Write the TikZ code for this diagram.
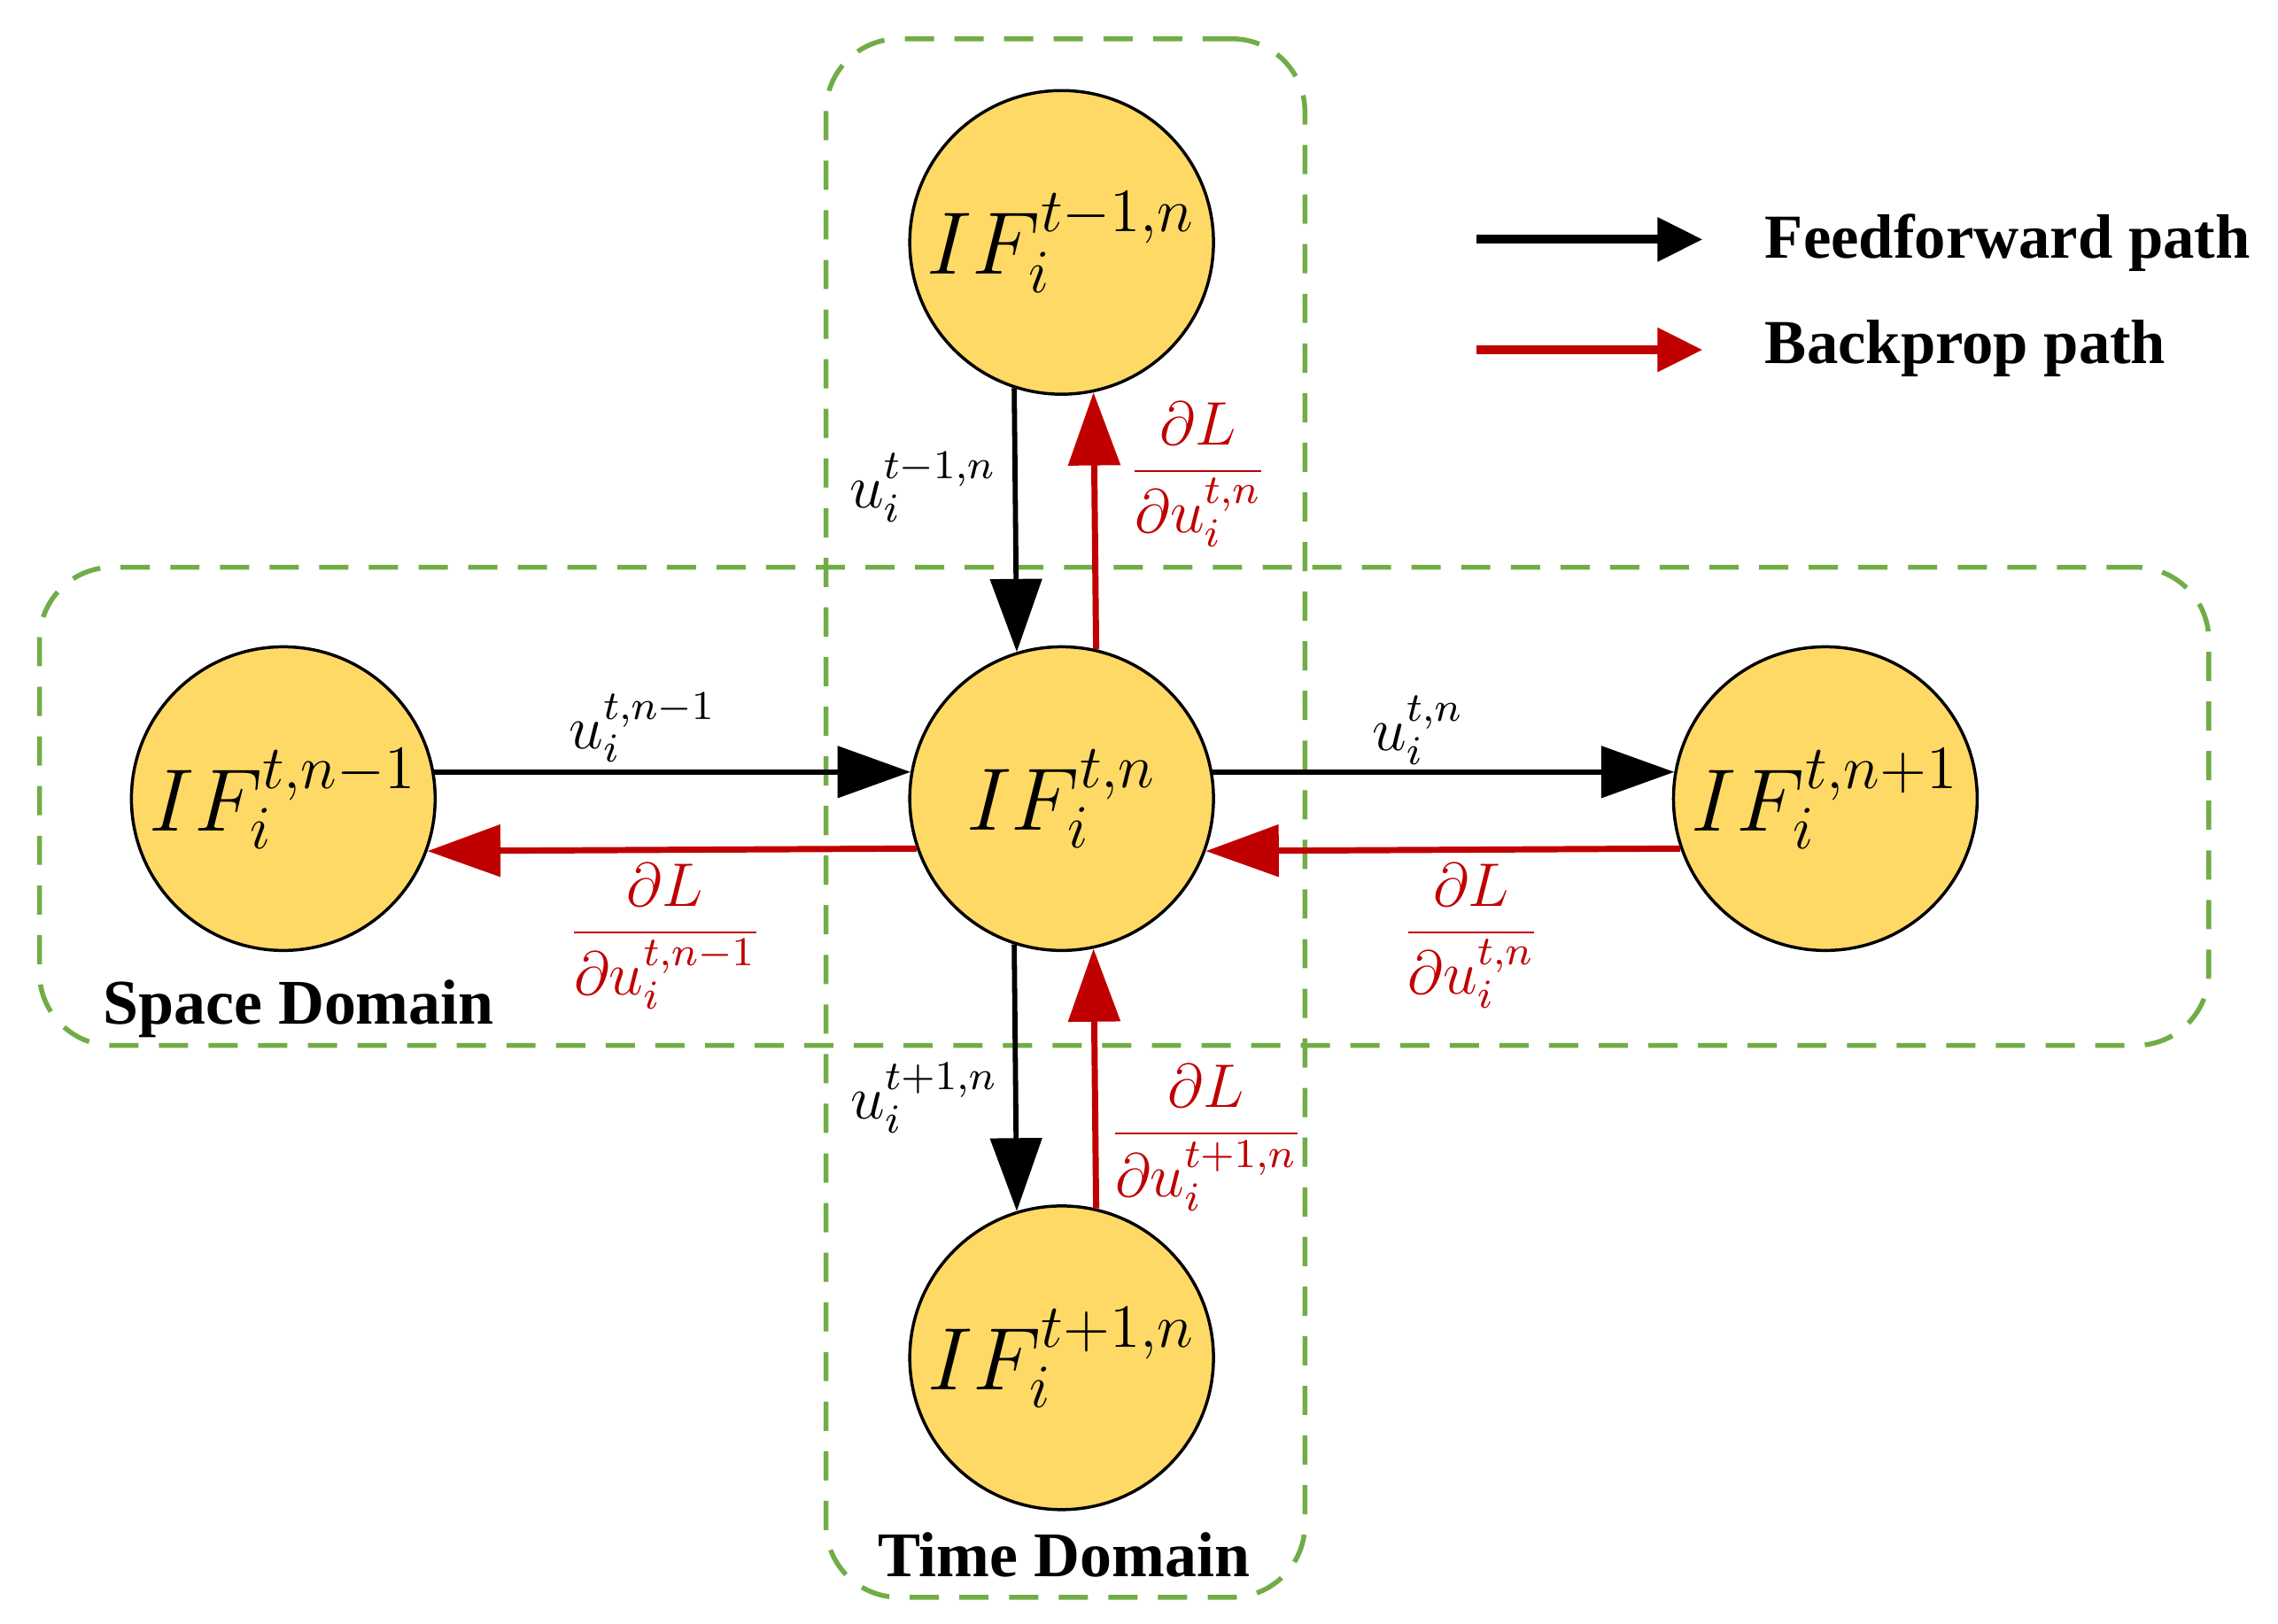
\documentclass[tikz,border=0pt]{standalone}
\usepackage[no-math]{fontspec}
\newfontfamily\legendfont{Liberation Serif}
\usetikzlibrary{arrows.meta}
\definecolor{ifyellow}{HTML}{FFD966}
\definecolor{domgreen}{HTML}{70AD47}
\definecolor{bpred}{HTML}{C00000}
\begin{document}
\begin{tikzpicture}[
        % --- common settings ---
        % neurons (filled circles)
        neuron/.style={
            circle,
            draw=black,
            line width=0.6pt,
            fill=ifyellow,
            minimum size=2.08cm,
            inner sep=0pt,
            font=\fontsize{17}{20}\selectfont
        },
        % dashed domain frames
        domframe/.style={
            rectangle,
            draw=domgreen,
            line width=0.95pt,
            dash pattern=on 0.2cm off 0.14cm,
            rounded corners=0.5cm,
            inner sep=0pt
        },
        % feedforward and backprop arrows
        ffarrow/.style={
            -{Triangle[length=5mm,width=3.5mm]},
            line width=1pt,
            black
        },
        bparrow/.style={
            -{Triangle[length=5mm,width=3.5mm]},
            line width=1.2pt,
            bpred
        },
        legarrow/.style={
            -{Triangle[length=3.1mm,width=2.9mm]},
            line width=1.7pt
        },
        % labels
        elabel/.style={inner sep=0pt, font=\fontsize{11.5}{14}\selectfont},
        dlabel/.style={inner sep=0pt, font=\legendfont\bfseries\fontsize{12.4}{15}\selectfont},
        leglabel/.style={inner sep=0pt, font=\legendfont\bfseries\fontsize{12.2}{15}\selectfont}
    ]
    \useasboundingbox (0,0) rectangle (15.6,-11.118);

    % --- domain frames ---
    \node[domframe, minimum width=3.28cm, minimum height=10.675cm] (timebox) at (7.296,-5.603) {};
    \node[domframe, minimum width=14.856cm, minimum height=3.275cm] (spacebox) at (7.698,-5.523) {};
    \node[dlabel, anchor=base west] (spacelbl) at (0.70,-7.016) {Space Domain};
    \node[dlabel, anchor=base] (timelbl) at (7.285,-10.80) {Time Domain};

    % --- neurons ---
    \node[neuron] (IFc) at (7.27,-5.47) {$IF_i^{t,n}$};
    \node[neuron] (IFu) at (7.27,-1.66) {$IF_i^{t-1,n}$};
    \node[neuron] (IFd) at (7.27,-9.30) {$IF_i^{t+1,n}$};
    \node[neuron] (IFl) at (1.94,-5.47) {$IF_i^{t,n-1}$};
    \node[neuron] (IFr) at (12.50,-5.47) {$IF_i^{t,n+1}$};

    % --- space domain ---
    \draw[ffarrow] (IFl.10) -- (IFc.170);
    \draw[bparrow] (IFc.199.7) -- (IFl.340.3);
    \draw[ffarrow] (IFc.10) -- (IFr.170);
    \draw[bparrow] (IFr.199.7) -- (IFc.340.3);
    \node[elabel, anchor=base west] (ul) at (3.89,-5.125) {$u_i^{t,n-1}$};
    \node[elabel, anchor=base, text=bpred] (gl) at (4.555,-6.49) {$\displaystyle\frac{\partial L}{\partial u_i^{t,n-1}}$};
    \node[elabel, anchor=base west] (ur) at (9.39,-5.14) {$u_i^{t,n}$};
    \node[elabel, anchor=base, text=bpred] (gr) at (10.075,-6.49) {$\displaystyle\frac{\partial L}{\partial u_i^{t,n}}$};

    % --- time domain ---
    \draw[ffarrow] (IFu.252.7) -- (IFc.107.3);
    \draw[bparrow] (IFc.77.2) -- (IFu.282.8);
    \draw[ffarrow] (IFc.252.7) -- (IFd.107.3);
    \draw[bparrow] (IFd.77.2) -- (IFc.282.8);
    \node[elabel, anchor=base west] (uu) at (5.81,-3.48) {$u_i^{t-1,n}$};
    \node[elabel, anchor=base, text=bpred] (gu) at (8.205,-3.33) {$\displaystyle\frac{\partial L}{\partial u_i^{t,n}}$};
    \node[elabel, anchor=base west] (ud) at (5.82,-7.665) {$u_i^{t+1,n}$};
    \node[elabel, anchor=base, text=bpred] (gd) at (8.26,-7.87) {$\displaystyle\frac{\partial L}{\partial u_i^{t+1,n}}$};

    % --- legend ---
    \coordinate (ffa) at (10.11,-1.64);
    \coordinate (ffb) at (11.66,-1.64);
    \coordinate (bpa) at (10.11,-2.396);
    \coordinate (bpb) at (11.66,-2.396);
    \draw[legarrow, black] (ffa) -- (ffb);
    \draw[legarrow, bpred] (bpa) -- (bpb);
    \node[leglabel, anchor=base west] (fftxt) at (12.08,-1.77) {Feedforward path};
    \node[leglabel, anchor=base west] (bptxt) at (12.08,-2.49) {Backprop path};

\end{tikzpicture}
\end{document}
